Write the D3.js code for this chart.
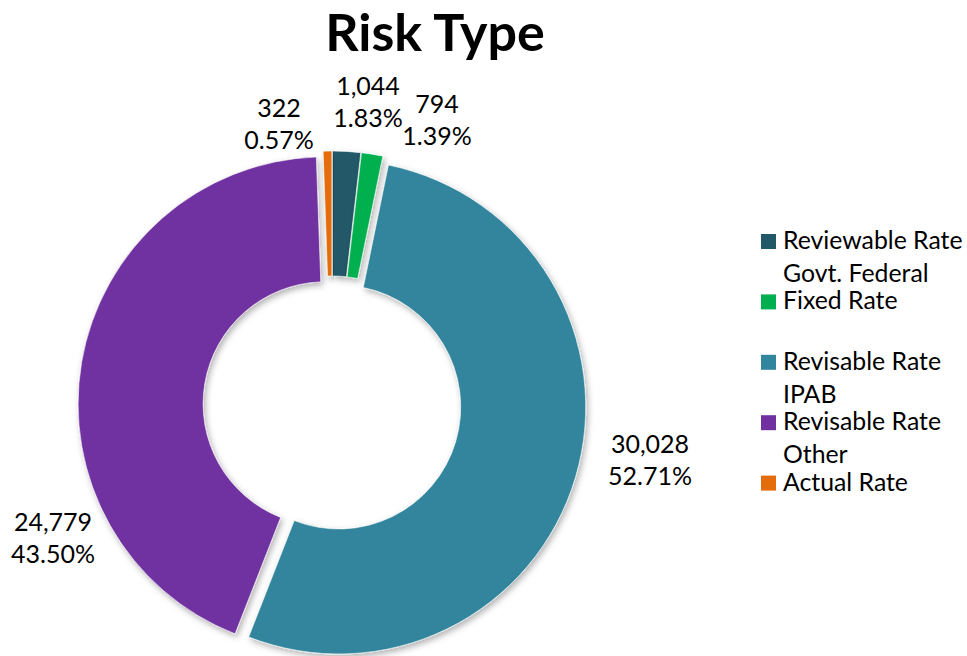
<!DOCTYPE html>
<html>
<head>
<meta charset="utf-8">
<script src="https://cdn.jsdelivr.net/npm/d3@7/dist/d3.min.js"></script>
<style>
  html, body { margin: 0; padding: 0; background: #ffffff; }
  svg { display: block; }
  text { font-family: Lato, "Open Sans", sans-serif; fill: #000; }
</style>
</head>
<body>
<svg id="chart" width="967" height="656"></svg>
<script>
// ---- data ----
const categories = ["Reviewable Rate Govt. Federal", "Fixed Rate", "Revisable Rate IPAB", "Revisable Rate Other", "Actual Rate"];
const values = [1044, 794, 30028, 24779, 322];
const percentLabels = ["1.83%", "1.39%", "52.71%", "43.50%", "0.57%"];
const colors = ["#215968", "#00B050", "#31859C", "#7030A0", "#E46C0A"];
const title = "Risk Type";

// ---- layout ----
const W = 967, H = 656;
const cx = 332, cy = 405;
const outerR = 247, innerR = 122, explode = 7;
// label anchor offsets (relative to pie centre), in slice order: [dx, first-baseline dy]
const labelOffsets = [[36, -310], [105, -292], [318, 48], [-279, 126], [-53, -288]];
const labelFont = 25, labelLine = 32;

const svg = d3.select("#chart");

const defs = svg.append("defs");
const f = defs.append("filter").attr("id", "shadow")
  .attr("x", "-20%").attr("y", "-20%").attr("width", "140%").attr("height", "140%");
f.append("feDropShadow").attr("dx", 2).attr("dy", 3).attr("stdDeviation", 3)
  .attr("flood-color", "#000").attr("flood-opacity", 0.3);

// title
svg.append("text")
  .attr("x", 435).attr("y", 51)
  .attr("text-anchor", "middle")
  .style("font-weight", "bold")
  .style("font-size", "52px")
  .text(title);

const pie = d3.pie().sort(null).value(d => d).startAngle(0).endAngle(2 * Math.PI);
const arcs = pie(values);
const arc = d3.arc().innerRadius(innerR).outerRadius(outerR);

const g = svg.append("g").attr("transform", `translate(${cx},${cy})`);

g.selectAll("path.slice")
  .data(arcs)
  .join("path")
  .attr("class", "slice")
  .attr("d", arc)
  .attr("fill", (d, i) => colors[i])
  .attr("stroke", "#ffffff")
  .attr("stroke-width", 0.6)
  .attr("filter", "url(#shadow)")
  .attr("transform", d => {
    const a = (d.startAngle + d.endAngle) / 2;
    return `translate(${explode * Math.sin(a)},${-explode * Math.cos(a)})`;
  });

// data labels
const fmt = d3.format(",");
const lbl = g.selectAll("g.lbl")
  .data(arcs)
  .join("g")
  .attr("class", "lbl")
  .attr("transform", (d, i) => `translate(${labelOffsets[i][0]},${labelOffsets[i][1]})`);
lbl.append("text")
  .attr("text-anchor", "middle")
  .style("font-size", labelFont + "px")
  .text(d => fmt(d.value));
lbl.append("text")
  .attr("text-anchor", "middle")
  .attr("y", labelLine)
  .style("font-size", labelFont + "px")
  .text((d, i) => percentLabels[i]);

// legend
const legX = 761, legY = 249, legStep = 60.4, legLine = 33, sw = 15, maxW = 190;
const leg = svg.append("g");
categories.forEach((c, i) => {
  const y = legY + i * legStep;
  leg.append("rect")
    .attr("x", legX).attr("y", y - sw).attr("width", sw).attr("height", sw)
    .attr("fill", colors[i]);
  const t = leg.append("text")
    .attr("x", legX + 22).attr("y", y)
    .style("font-size", "24.8px");
  // greedy wrap
  const words = c.split(" ");
  let line = [];
  let tspan = t.append("tspan").attr("x", legX + 22).attr("dy", 0);
  words.forEach(w => {
    line.push(w);
    tspan.text(line.join(" "));
    if (tspan.node().getComputedTextLength() > maxW && line.length > 1) {
      line.pop();
      tspan.text(line.join(" "));
      line = [w];
      tspan = t.append("tspan").attr("x", legX + 22).attr("dy", legLine).text(w);
    }
  });
});
</script>
</body>
</html>
